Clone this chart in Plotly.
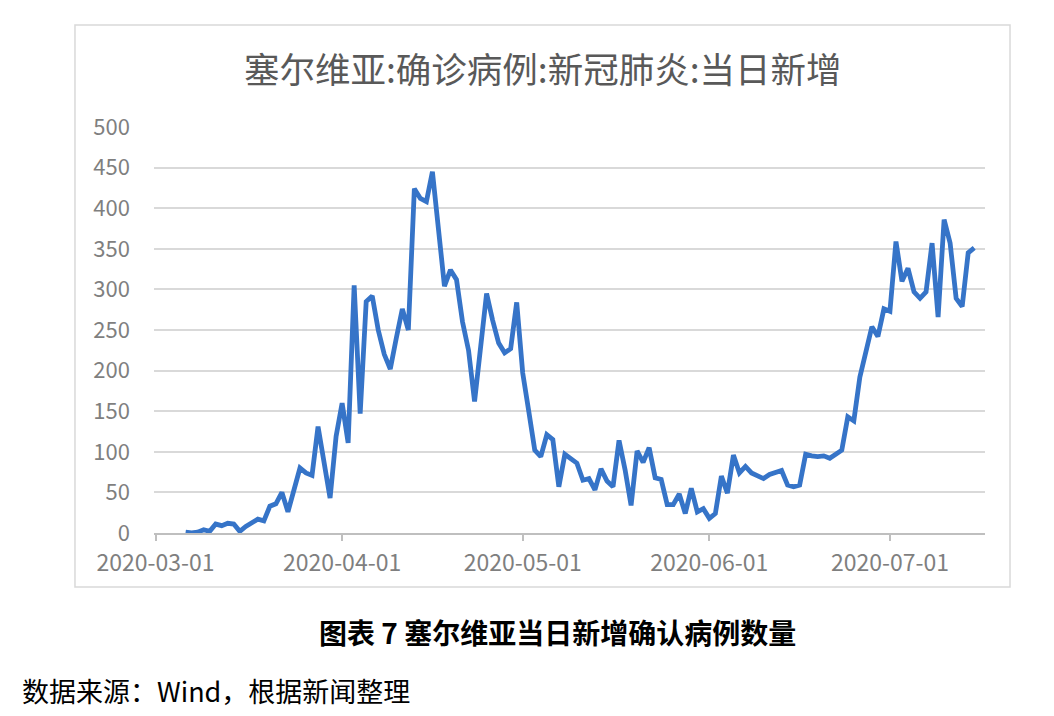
import plotly.graph_objects as go
import pandas as pd

start_date = "2020-03-06"
daily_new = [
    1, 0, 1, 4, 2, 11, 9, 12, 11, 2,
    8, 13, 17, 15, 33, 36, 50, 26, 53, 80,
    74, 71, 131, 88, 43, 119, 160, 111, 305, 147,
    285, 292, 250, 220, 202, 240, 276, 250, 424, 412,
    408, 445, 376, 304, 324, 312, 260, 225, 162, 228,
    295, 262, 234, 222, 227, 284, 197, 150, 102, 94,
    121, 115, 57, 97, 92, 86, 65, 67, 53, 79,
    64, 57, 114, 78, 34, 101, 87, 105, 68, 66,
    35, 35, 48, 24, 55, 26, 30, 18, 24, 70,
    49, 96, 74, 82, 74, 70, 67, 72, 74, 77,
    59, 57, 59, 97, 95, 94, 95, 92, 97, 102,
    143, 138, 192, 225, 254, 242, 276, 273, 359, 310,
    326, 297, 289, 297, 357, 266, 386, 357, 289, 279,
    345, 351,
]
dates = pd.date_range(start_date, periods=len(daily_new), freq="D")

tick_dates = ["2020-03-01", "2020-04-01", "2020-05-01", "2020-06-01", "2020-07-01"]
y_ticks = [0, 50, 100, 150, 200, 250, 300, 350, 400, 450, 500]

title_text = "塞尔维亚:确诊病例:新冠肺炎:当日新增"
caption_text = "图表 7 塞尔维亚当日新增确认病例数量"
source_text = "数据来源：Wind，根据新闻整理"

FONT = "Noto Sans CJK SC"

fig = go.Figure()
fig.add_trace(go.Scatter(
    x=dates, y=daily_new, mode="lines",
    line=dict(color="#3674c8", width=4.8),
    hoverinfo="x+y", showlegend=False,
))

fig.update_layout(
    width=1054, height=716,
    margin=dict(l=154, r=69, t=127, b=183),
    paper_bgcolor="white", plot_bgcolor="white",
    font=dict(family=FONT, color="#7f7f7f"),
    xaxis=dict(
        type="date",
        range=["2020-02-29 18:00", "2020-07-16 19:00"],
        tickvals=tick_dates, ticktext=tick_dates,
        showgrid=False, zeroline=False,
        showline=True, linecolor="#bfbfbf", linewidth=1.5,
        ticks="outside", ticklen=6, tickcolor="#bfbfbf", tickwidth=1.5,
        tickfont=dict(size=23, color="#7f7f7f", family=FONT),
        ticklabelstandoff=3,
    ),
    yaxis=dict(
        range=[0, 500], tickvals=y_ticks,
        showgrid=True, gridcolor="#d9d9d9", gridwidth=1.5,
        zeroline=False, showline=False, ticks="",
        tickfont=dict(size=22, color="#7f7f7f", family=FONT),
        ticklabelstandoff=23,
    ),
    shapes=[dict(
        type="rect", xref="paper", yref="paper",
        x0=-0.0951, x1=1.0301, y0=-0.133, y1=1.2512,
        line=dict(color="#d9d9d9", width=1.5), fillcolor="rgba(0,0,0,0)",
        layer="below",
    )],
    annotations=[
        dict(text=title_text, xref="paper", yref="paper", x=0.468, y=1.1454,
             xanchor="center", yanchor="middle", showarrow=False,
             font=dict(family=FONT, size=35.5, color="#595959")),
        dict(text="<b>" + caption_text + "</b>", xref="paper", yref="paper",
             x=0.486, y=-0.2438, xanchor="center", yanchor="middle", showarrow=False,
             font=dict(family=FONT, size=28, color="#000000")),
        dict(text=source_text, xref="paper", yref="paper", x=-0.1613, y=-0.3867,
             xanchor="left", yanchor="middle", showarrow=False,
             font=dict(family=FONT, size=27, color="#000000")),
    ],
)

fig.write_html("out.html")
